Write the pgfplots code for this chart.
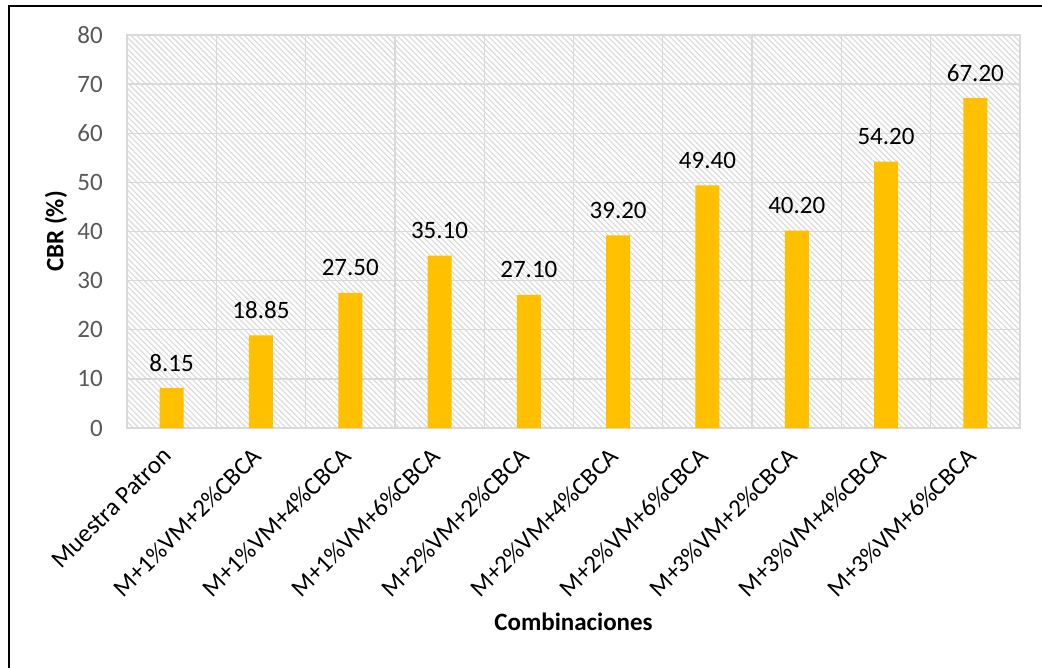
\documentclass[border=0pt]{standalone}
\usepackage{pgfplots}
\pgfplotsset{compat=1.18}
\usepackage{fontspec}
\setmainfont{Carlito}
\usetikzlibrary{patterns.meta}
\definecolor{barc}{HTML}{FFC000}
\definecolor{gridc}{HTML}{D9D9D9}
\definecolor{tickc}{HTML}{595959}
\definecolor{hatchc}{HTML}{D9D9D9}
\begin{document}
\fontsize{25bp}{29bp}\selectfont
\begin{tikzpicture}
\useasboundingbox (0,0) rectangle (1042bp,668bp);
\fill[white] (0,0) rectangle (1042bp,668bp);
\draw[black, line width=1.6bp] (9bp,-2bp) -- (9bp,662bp) -- (1044bp,662bp);
\begin{axis}[
  at={(127bp,240bp)}, anchor=south west,
  scale only axis, width=893bp, height=393bp,
  xmin=-0.5, xmax=9.5, ymin=0, ymax=80,
  ytick={0,10,...,80},
  xtick=data,
  xticklabels={Muestra Patron, M+1\%VM+2\%CBCA, M+1\%VM+4\%CBCA, M+1\%VM+6\%CBCA, M+2\%VM+2\%CBCA, M+2\%VM+4\%CBCA, M+2\%VM+6\%CBCA, M+3\%VM+2\%CBCA, M+3\%VM+4\%CBCA, M+3\%VM+6\%CBCA},
  minor x tick num=1,
  ymajorgrids, xminorgrids,
  major tick length=0pt, minor tick length=0pt,
  grid style={draw=gridc, line width=1.3bp},
  minor grid style={draw=gridc, line width=1.3bp},
  axis line style={draw=gridc, line width=1.3bp},
  axis background/.style={fill=white, postaction={pattern={Lines[angle=-45, distance=4bp, line width=1.1bp]}, pattern color=hatchc}},
  /pgf/number format/assume math mode=true,
  yticklabel style={color=tickc, inner sep=0pt, anchor=east, xshift=-24bp},
  xticklabel style={xshift=-10bp, yshift=-18bp, rotate=45, anchor=north east, inner sep=0pt},
  ylabel={\bfseries CBR (\%)},
  ylabel style={at={(axis description cs:-0.0795,0.5)}, anchor=center, rotate=0},
  xlabel={\bfseries Combinaciones},
  xlabel style={at={(axis description cs:0.5,-0.4936)}, anchor=center},
  ybar, bar width=24bp,
  nodes near coords={\pgfmathprintnumber[fixed,fixed zerofill,precision=2]{\pgfplotspointmeta}},
  nodes near coords style={anchor=center, yshift=25bp, color=black},
  clip=false,
]
\addplot[fill=barc, draw=none] coordinates {
(0,8.15) (1,18.85) (2,27.50) (3,35.10) (4,27.10) (5,39.20) (6,49.40) (7,40.20) (8,54.20) (9,67.20)};
\end{axis}
\end{tikzpicture}
\end{document}
